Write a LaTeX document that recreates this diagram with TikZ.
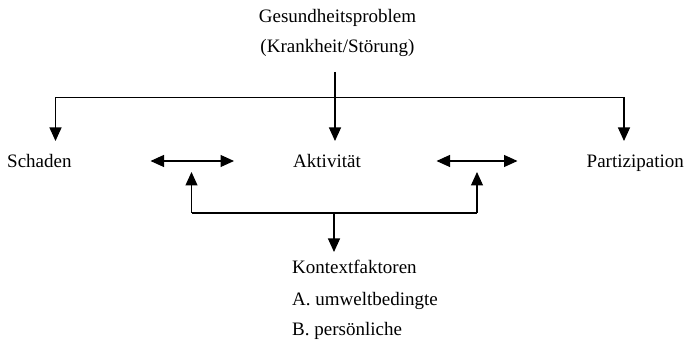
\documentclass[tikz,border=0pt]{standalone}
\usepackage{fontspec}
\setmainfont{Liberation Serif}
\usetikzlibrary{arrows.meta}
\begin{document}
\begin{tikzpicture}[x=1pt,y=1pt,
  lbl/.style={inner sep=0pt,font=\fontsize{19}{23}\selectfont},
  conn/.style={line width=1.1pt},
  arr/.style={conn,-{Triangle[length=13.5pt,width=12pt]}},
  darr/.style={conn,{Triangle[length=13.5pt,width=12pt]}-{Triangle[length=13.5pt,width=12pt]}}]
\useasboundingbox (0,0) rectangle (688,342);
% texts (y = 342 - pixel row)
\node[lbl,anchor=base] (ges) at (337.5,319) {Gesundheitsproblem};
\node[lbl,anchor=base] (kra) at (337.5,289) {(Krankheit/Störung)};
\node[lbl,anchor=base west] (sch) at (7,174) {Schaden};
\node[lbl,anchor=base] (akt) at (327,174) {Aktivität};
\node[lbl,anchor=base east] (par) at (684,174) {Partizipation};
\node[lbl,anchor=base west] (kon) at (292,68) {Kontextfaktoren};
\node[lbl,anchor=base west] (kona) at (292,36.5) {A. umweltbedingte};
\node[lbl,anchor=base west] (konb) at (292,6.5) {B. persönliche};
% connector points
\coordinate (topS) at (335,270);
\coordinate (topB) at (335,244.5);
\coordinate (topE) at (335,201);
\coordinate (hl) at (55.5,244.5);
\coordinate (hr) at (624,244.5);
\coordinate (hlE) at (55.5,201);
\coordinate (hrE) at (624,201);
\coordinate (d1a) at (150.5,181);
\coordinate (d1b) at (234,181);
\coordinate (d2a) at (436.5,181);
\coordinate (d2b) at (517.5,181);
\coordinate (ul) at (191.5,129);
\coordinate (ulE) at (191.5,170);
\coordinate (ur) at (477,129);
\coordinate (urE) at (477,170);
\coordinate (bm) at (334,129);
\coordinate (bmE) at (334,90);
% connectors
\draw[arr] (topS) -- (topE);
\draw[conn] (hl) -- (hr);
\draw[arr] (hl) -- (hlE);
\draw[arr] (hr) -- (hrE);
\draw[darr] (d1a) -- (d1b);
\draw[darr] (d2a) -- (d2b);
\draw[conn] (ul) -- (ur);
\draw[arr] (ul) -- (ulE);
\draw[arr] (ur) -- (urE);
\draw[arr] (bm) -- (bmE);
\end{tikzpicture}
\end{document}
